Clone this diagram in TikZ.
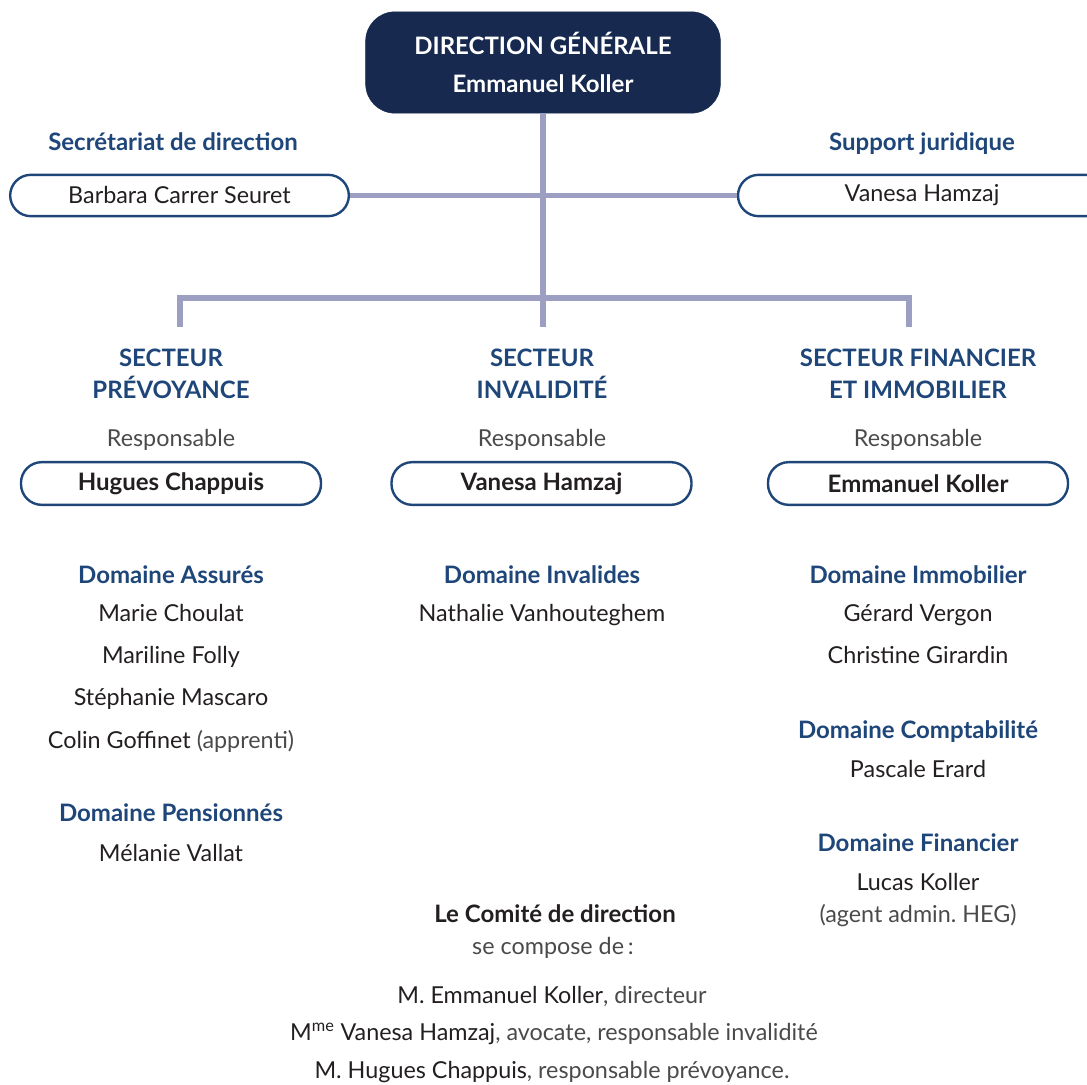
\documentclass[tikz,border=0pt]{standalone}
\usepackage{fontspec}
\setmainfont{Lato}
\frenchspacing
\definecolor{navy}{HTML}{17294F}
\definecolor{headblue}{HTML}{1E4679}
\definecolor{linkgrey}{HTML}{9C9EC2}
\definecolor{ink}{HTML}{231F20}
\definecolor{soft}{HTML}{4A4A4A}
\tikzset{
  link/.style={draw=linkgrey,line width=3.8pt},
  dgbox/.style={fill=navy,draw=navy,rounded corners=22pt,minimum width=266pt,minimum height=76pt,
    align=center,text=white,font=\bfseries\fontsize{18}{29}\selectfont},
  pill/.style={draw=headblue,line width=1.8pt,rounded corners=15.5pt,minimum width=254pt,minimum height=31pt,
    font=\fontsize{17.5}{20}\selectfont,text=ink},
  respbox/.style={pill,minimum width=225pt,minimum height=32pt,font=\bfseries\fontsize{18}{20}\selectfont},
  head/.style={anchor=base,text=headblue,font=\bfseries\fontsize{18}{20}\selectfont},
  txt/.style={anchor=base,text=ink,font=\fontsize{17.5}{20}\selectfont},
  lighttxt/.style={txt,text=soft}
}
\begin{document}
\begin{tikzpicture}[x=0.75pt,y=-0.75pt]
  \useasboundingbox (0,0) rectangle (1087,1084);

  % direction and staff
  \node[dgbox] (dg) at (543,62.5) {DIRECTION GÉNÉRALE\\Emmanuel Koller};
  \node[head] (secrhead) at (173,151) {Secrétariat de direction};
  \node[pill] (secr) at (179.5,195.5) {Barbara Carrer Seuret};
  \node[head] (jurhead) at (922,151) {Support juridique};
  \node[pill,minimum width=276pt] (jur) at (922,195.5) {Vanesa Hamzaj};

  \coordinate (jl) at (180,298);
  \coordinate (jr) at (909,298);
  \coordinate (sl) at (180,327);
  \coordinate (sm) at (543,327);
  \coordinate (sr) at (909,327);
  \draw[link] (dg.south) -- (sm);
  \draw[link] (sl) -- (jl) -- (jr) -- (sr);
  \draw[link] (secr.east) -- (jur.west);

  % secteur prevoyance
  \node[head] (prev1) at (171,366) {SECTEUR};
  \node[head] (prev2) at (171,398) {PRÉVOYANCE};
  \node[lighttxt] (prevr) at (171,446) {Responsable};
  \node[respbox] (prev) at (171,483.5) {Hugues Chappuis};
  \node[head] (assures) at (171,583) {Domaine Assurés};
  \node[txt] (a1) at (171,621) {Marie Choulat};
  \node[txt] (a2) at (171,663) {Mariline Folly};
  \node[txt] (a3) at (171,705) {Stéphanie Mascaro};
  \node[txt] (a4) at (171,748) {Colin Goffinet \textcolor{soft}{(apprenti)}};
  \node[head] (pens) at (171,821) {Domaine Pensionnés};
  \node[txt] (p1) at (171,861) {Mélanie Vallat};

  % secteur invalidite
  \node[head] (inv1) at (542,366) {SECTEUR};
  \node[head] (inv2) at (542,398) {INVALIDITÉ};
  \node[lighttxt] (invr) at (542,446) {Responsable};
  \node[respbox] (inv) at (541.5,483.5) {Vanesa Hamzaj};
  \node[head] (invdom) at (542,583) {Domaine Invalides};
  \node[txt] (i1) at (542,621) {Nathalie Vanhouteghem};

  % secteur financier et immobilier
  \node[head] (fin1) at (918,366) {SECTEUR FINANCIER};
  \node[head] (fin2) at (918,398) {ET IMMOBILIER};
  \node[lighttxt] (finr) at (918,446) {Responsable};
  \node[respbox] (fin) at (918,483.5) {Emmanuel Koller};
  \node[head] (immo) at (918,583) {Domaine Immobilier};
  \node[txt] (f1) at (918,621) {Gérard Vergon};
  \node[txt] (f2) at (918,663) {Christine Girardin};
  \node[head] (compta) at (918,738) {Domaine Comptabilité};
  \node[txt] (f3) at (918,777) {Pascale Erard};
  \node[head] (finan) at (918,851) {Domaine Financier};
  \node[txt] (f4) at (918,890) {Lucas Koller};
  \node[lighttxt] (f5) at (918,922) {(agent admin. HEG)};

  % comite de direction
  \node[head,text=ink] (comite) at (555,922) {Le Comité de direction};
  \node[lighttxt] (compose) at (553,954) {se compose de\,:};
  \node[txt] (c1) at (552,1003) {M. Emmanuel Koller\textcolor{soft}{, directeur}};
  \node[txt] (c2) at (554,1040) {M\textsuperscript{me} Vanesa Hamzaj\textcolor{soft}{, avocate, responsable invalidité}};
  \node[txt] (c3) at (552,1078) {M. Hugues Chappuis\textcolor{soft}{, responsable prévoyance.}};
\end{tikzpicture}
\end{document}
